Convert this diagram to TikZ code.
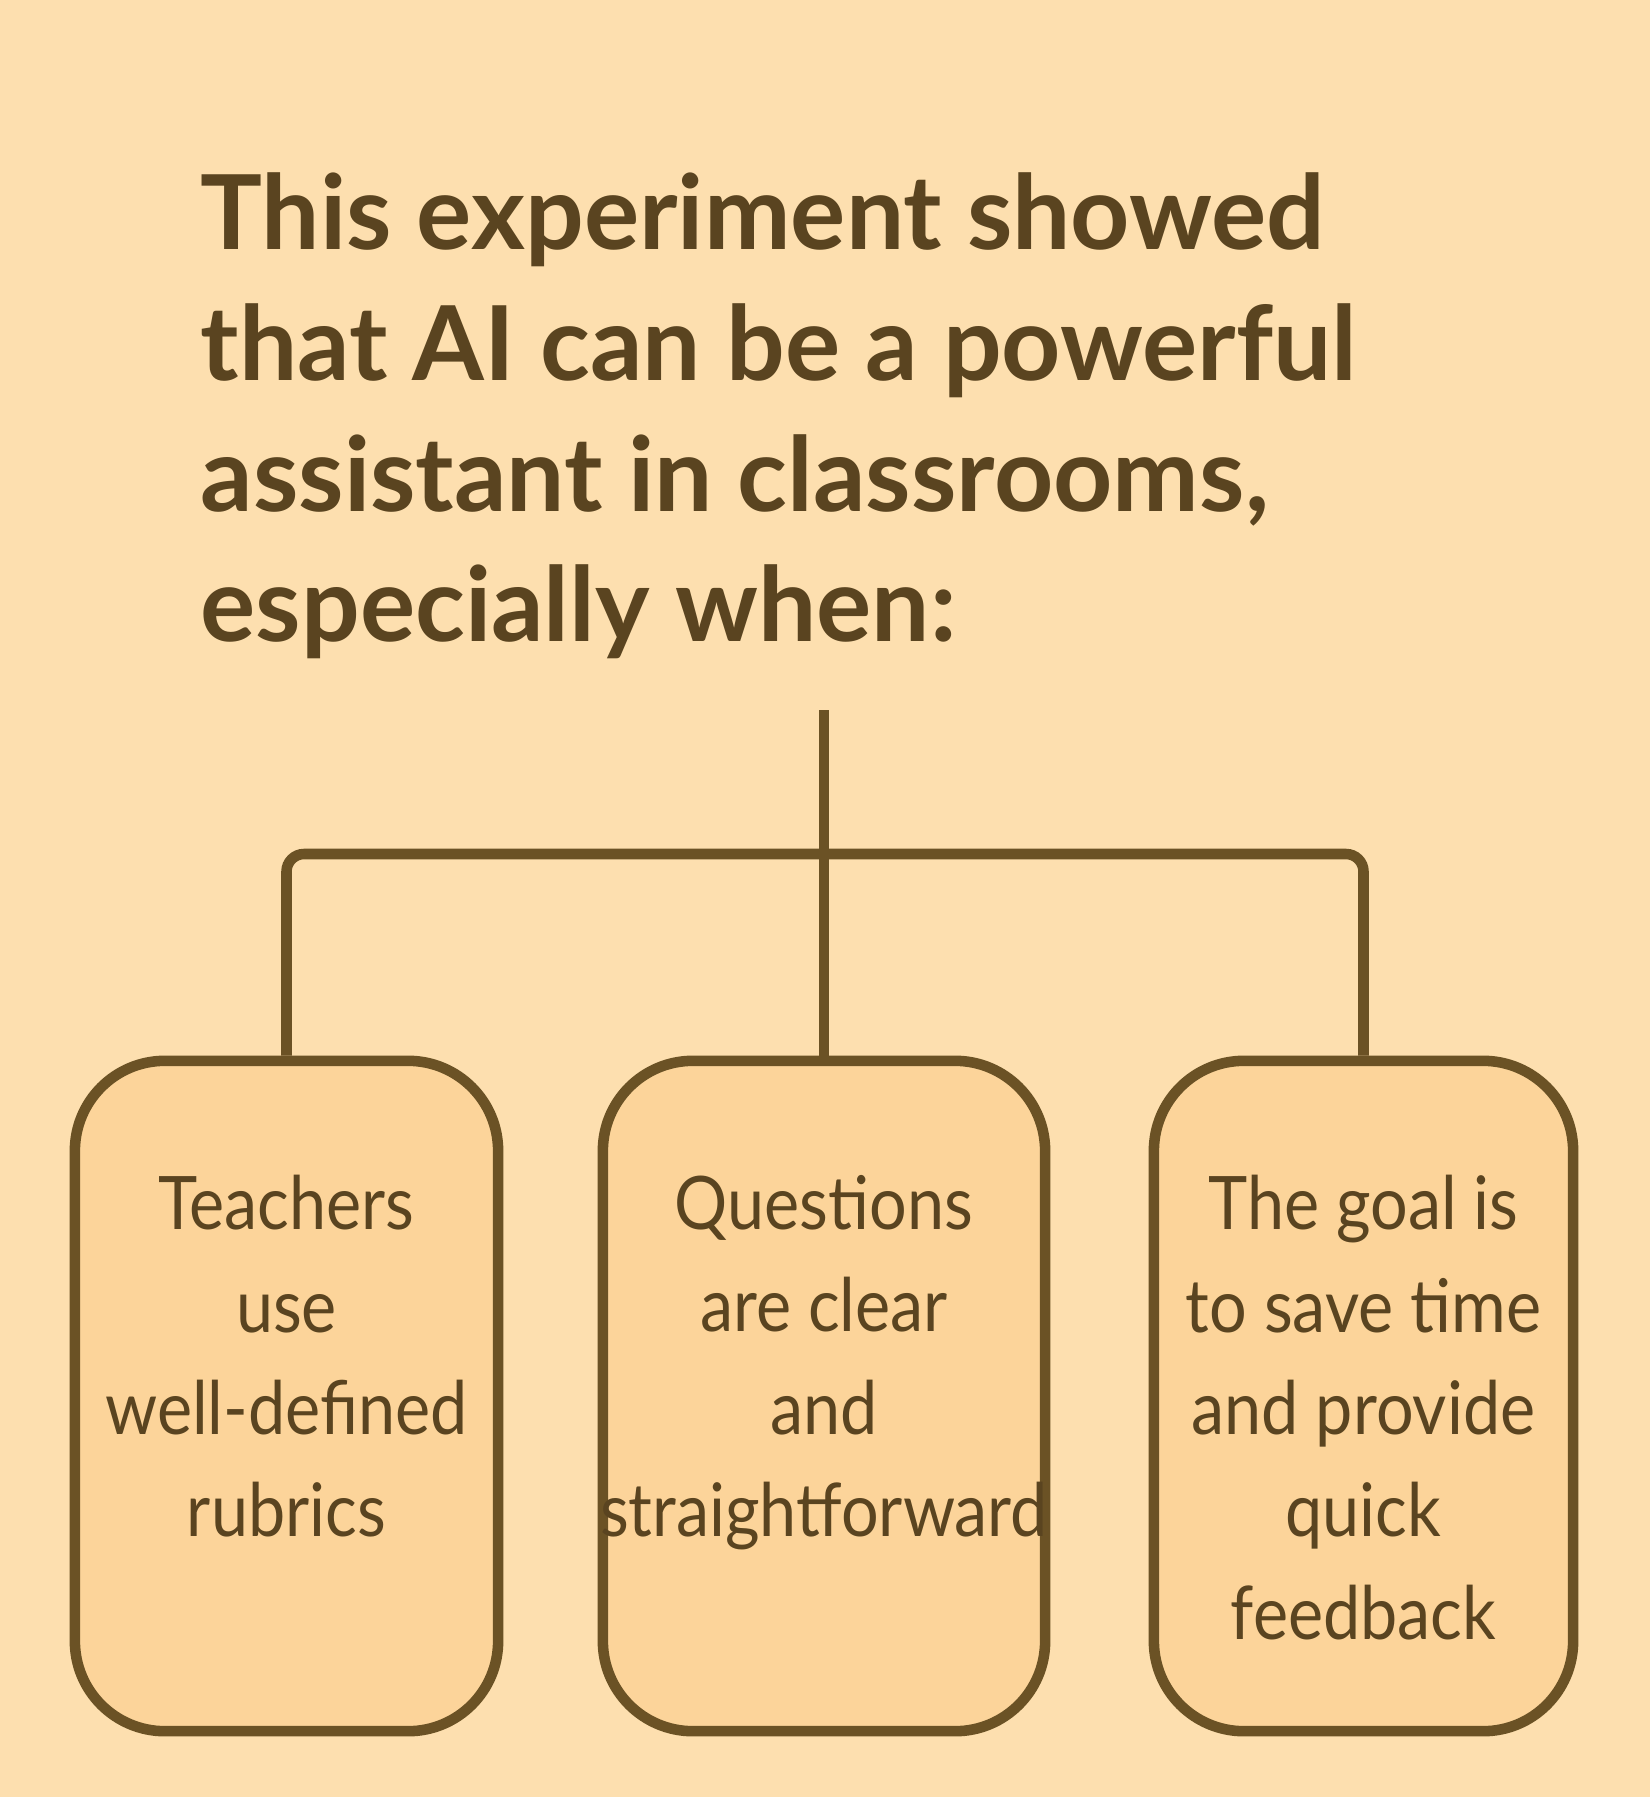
\documentclass[tikz,border=0pt]{standalone}
\usepackage{fontspec}
\setmainfont{Lato}
\usepackage{xcolor}
\usetikzlibrary{positioning}

\definecolor{paper}{HTML}{FDDFAF}
\definecolor{boxfill}{HTML}{FCD49A}
\definecolor{ink}{HTML}{6B5225}
\definecolor{txt}{HTML}{5A4420}

\begin{document}
\begin{tikzpicture}[
    x=0.01cm, y=-0.01cm,
    box/.style={rectangle, draw=ink, fill=boxfill, line width=3pt,
                rounded corners=0.9cm, minimum height=6.7cm},
    boxtxt/.style={inner sep=0pt, align=center, text=txt,
                   font=\addfontfeature{FakeStretch=0.9}\fontsize{21}{29.1}\selectfont},
    conn/.style={draw=ink, line width=3pt}
]
% page
\fill[paper] (0,0) rectangle (1650,1797);
\useasboundingbox (0,0) rectangle (1650,1797);
% heading
\node[anchor=north west, inner sep=0pt, align=left, text=txt,
      font=\bfseries\fontsize{29.4}{37.2}\selectfont] (head) at (200,172)
     {This experiment showed\\ that AI can be a powerful\\ assistant in classrooms,\\ especially when:};
% the three conditions
\node[box, minimum width=4.23cm] (teach) at (286.5,1396) {};
\node[box, minimum width=4.42cm] (quest) at (824,1396) {};
\node[box, minimum width=4.19cm] (goal)  at (1363.5,1396) {};
\node[boxtxt, below=1.19cm of teach.north] (teachtxt)
     {Teachers\\ use\\ well-defined\\ rubrics};
\node[boxtxt, below=1.19cm of quest.north] (questtxt)
     {Questions\\ are clear\\ and\\ straightforward};
\node[boxtxt, below=1.19cm of goal.north] (goaltxt)
     {The goal is\\ to save time\\ and provide\\ quick\\ feedback};
% tree lines
\coordinate (root)  at (824,710);
\coordinate (split) at (824,854);
\draw[conn] (root) -- (quest.north);
\draw[conn, rounded corners=5pt] (teach.north) |- (split) -| (goal.north);
\end{tikzpicture}
\end{document}
